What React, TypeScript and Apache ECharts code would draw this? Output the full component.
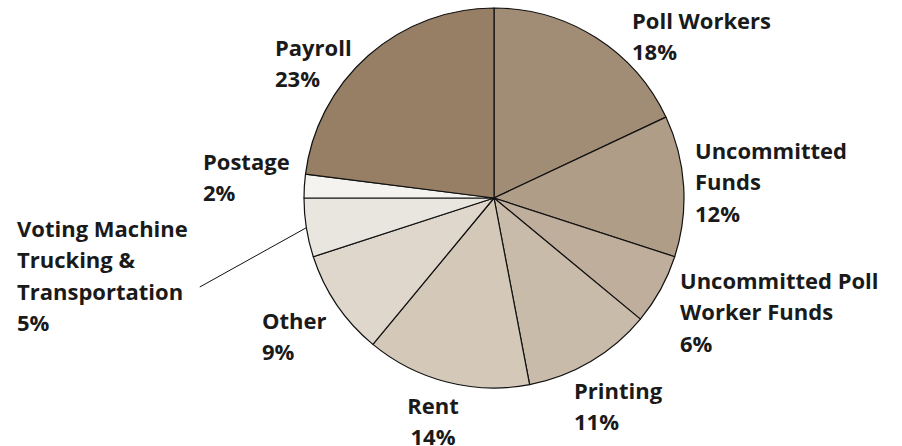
import React, { useEffect, useRef } from "react";
import * as echarts from "echarts";

const categories = [
  "Poll Workers",
  "Uncommitted\nFunds",
  "Uncommitted Poll\nWorker Funds",
  "Printing",
  "Rent",
  "Other",
  "Voting Machine\nTrucking &\nTransportation",
  "Postage",
  "Payroll",
];
const values = [18, 12, 6, 11, 14, 9, 5, 2, 23];
const colors = [
  "#a18d75",
  "#b09d88",
  "#bfae9c",
  "#c9bba9",
  "#d4c8b9",
  "#dfd7cc",
  "#e9e6df",
  "#f4f3f0",
  "#967f65",
];

// label anchor (left/top or centre/top) per slice
const labelPos: { x: number; y: number; align: "left" | "center" }[] = [
  { x: 632, y: 4, align: "left" },
  { x: 695, y: 134, align: "left" },
  { x: 680, y: 264, align: "left" },
  { x: 574, y: 374, align: "left" },
  { x: 433, y: 389, align: "center" },
  { x: 262, y: 304, align: "left" },
  { x: 17, y: 212, align: "left" },
  { x: 203, y: 145, align: "left" },
  { x: 275, y: 31, align: "left" },
];

export default function App() {
  const ref = useRef<HTMLDivElement>(null);
  useEffect(() => {
    if (!ref.current) return;
    const chart = echarts.init(ref.current, null, { renderer: "svg" });
    chart.setOption({
      animation: false,
      backgroundColor: "#ffffff",
      series: [
        {
          type: "pie",
          center: [494, 198],
          radius: 190,
          startAngle: 90,
          clockwise: true,
          avoidLabelOverlap: false,
          itemStyle: { borderColor: "#111111", borderWidth: 1.2 },
          label: {
            show: true,
            position: "outside",
            formatter: (p: any) => `${p.name}\n${p.value}%`,
            fontFamily: "Open Sans",
            fontWeight: "bold",
            fontSize: 22,
            lineHeight: 31.5,
            color: "#1a1a1a",
          },
          labelLine: { show: false },
          labelLayout: (params: any) => {
            const p = labelPos[params.dataIndex];
            return {
              x: p.x,
              y: p.y,
              align: p.align,
              verticalAlign: "top",
            };
          },
          data: categories.map((name, i) => ({
            name,
            value: values[i],
            itemStyle: { color: colors[i] },
            label: i === 6 ? { padding: [0, 12, 24, 0] } : undefined,
            labelLine:
              i === 6
                ? { show: true, length: 0, length2: 0, lineStyle: { color: "#111", width: 1 } }
                : { show: false },
          })),
        },
      ],
    });
    return () => chart.dispose();
  }, []);
  return (
    <div
      ref={ref}
      style={{ position: "fixed", left: 0, top: 0, width: 902, height: 446 }}
    />
  );
}
